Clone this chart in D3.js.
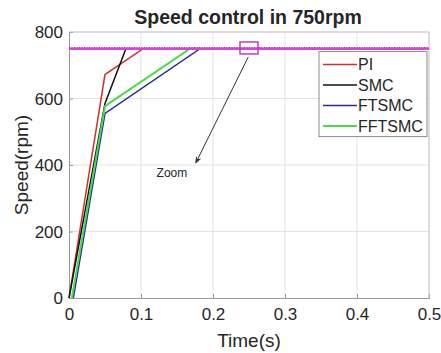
<!DOCTYPE html>
<html>
<head>
<meta charset="utf-8">
<script src="https://cdn.jsdelivr.net/npm/d3@7"></script>
<style>
  body { margin: 0; background: #fff; }
  text { font-family: "Liberation Sans", Arial, sans-serif; fill: #262626; }
</style>
</head>
<body>
<svg id="chart" width="441" height="353"></svg>
<script>
// series
const seriesNames = ['PI', 'SMC', 'FTSMC', 'FFTSMC'];
const timePI = [0, 0.05, 0.103, 0.5];
const speedPI = [0, 672, 750, 750];
const timeSMC = [0, 0.05, 0.079, 0.5];
const speedSMC = [0, 585, 750, 750];
const timeFTSMC = [0.006, 0.05, 0.182, 0.5];
const speedFTSMC = [0, 555, 750, 750];
const timeFFTSMC = [0.004, 0.05, 0.168, 0.5];
const speedFFTSMC = [0, 577, 750, 750];
const refTime = [0, 0.5];
const refSpeed = [750, 750];

const xTicks = [0, 0.1, 0.2, 0.3, 0.4, 0.5];
const yTicks = [0, 200, 400, 600, 800];

// zoom marker + arrow, in data units
const zoomBox = { t0: 0.2375, t1: 0.2625, s0: 734, s1: 770 };
const arrowFrom = [0.249, 725];
const arrowTo = [0.176, 406];
const zoomLabel = { t: 0.143, s: 376, text: 'Zoom' };

const colors = ['#d03030', '#111111', '#2a2a9c', '#44dd44'];

const margin = { top: 32, right: 12, bottom: 55, left: 69 };
const width = 441 - margin.left - margin.right;
const height = 353 - margin.top - margin.bottom;

const svg = d3.select('#chart');
const g = svg.append('g')
  .attr('transform', 'translate(' + margin.left + ',' + margin.top + ')');

const x = d3.scaleLinear().domain([0, 0.5]).range([0, width]);
const y = d3.scaleLinear().domain([0, 800]).range([height, 0]);

// grid
g.append('g').selectAll('line').data(xTicks.slice(1, -1)).enter().append('line')
  .attr('x1', d => x(d)).attr('x2', d => x(d))
  .attr('y1', 0).attr('y2', height)
  .attr('stroke', '#e3e3e3').attr('stroke-width', 1);
g.append('g').selectAll('line').data(yTicks.slice(1, -1)).enter().append('line')
  .attr('x1', 0).attr('x2', width)
  .attr('y1', d => y(d)).attr('y2', d => y(d))
  .attr('stroke', '#e3e3e3').attr('stroke-width', 1);

// axes
const xAxis = g.append('g')
  .attr('transform', 'translate(0,' + height + ')')
  .call(d3.axisBottom(x).tickValues(xTicks).tickSize(-4).tickPadding(10).tickFormat(d3.format('')));
const yAxis = g.append('g')
  .call(d3.axisLeft(y).tickValues(yTicks).tickSize(-4).tickPadding(6));
[xAxis, yAxis].forEach(a => {
  a.selectAll('text').style('font-size', '17px').attr('fill', '#262626');
  a.selectAll('line').attr('stroke', '#999');
  a.select('.domain').attr('stroke', '#999');
});
yAxis.selectAll('.tick text').attr('dy', '0.35em');

// box top/right
g.append('line').attr('x1', 0).attr('x2', width).attr('y1', 0).attr('y2', 0).attr('stroke', '#bbb');
g.append('line').attr('x1', width).attr('x2', width).attr('y1', 0).attr('y2', height).attr('stroke', '#bbb');

// lines
const line = d3.line().x(d => x(d[0])).y(d => y(d[1]));
const series = [
  d3.zip(timePI, speedPI),
  d3.zip(timeSMC, speedSMC),
  d3.zip(timeFTSMC, speedFTSMC),
  d3.zip(timeFFTSMC, speedFFTSMC)
];
series.forEach((s, i) => {
  g.append('path').datum(s)
    .attr('fill', 'none')
    .attr('stroke', colors[i])
    .attr('stroke-width', i === 3 ? 2 : 1.5)
    .attr('d', line);
});

// reference at 750
const ref = d3.zip(refTime, refSpeed);
g.append('path').datum(ref)
  .attr('fill', 'none').attr('stroke', '#e040e0').attr('stroke-width', 2.5)
  .attr('d', line);
g.append('path').datum(ref)
  .attr('fill', 'none').attr('stroke', '#7a3a8a').attr('stroke-width', 1)
  .attr('stroke-dasharray', '1,1.5')
  .attr('transform', 'translate(0,-1)')
  .attr('d', line);

// zoom box
g.append('rect')
  .attr('x', x(zoomBox.t0)).attr('y', y(zoomBox.s1))
  .attr('width', x(zoomBox.t1) - x(zoomBox.t0))
  .attr('height', y(zoomBox.s0) - y(zoomBox.s1))
  .attr('fill', 'none').attr('stroke', '#c040b0').attr('stroke-width', 1.5);

svg.append('defs').append('marker')
  .attr('id', 'arr').attr('viewBox', '0 0 10 10')
  .attr('refX', 9).attr('refY', 5)
  .attr('markerWidth', 7).attr('markerHeight', 7)
  .attr('orient', 'auto')
  .append('path').attr('d', 'M0,1 L10,5 L0,9 L3,5 Z').attr('fill', '#333');

g.append('line')
  .attr('x1', x(arrowFrom[0])).attr('y1', y(arrowFrom[1]))
  .attr('x2', x(arrowTo[0])).attr('y2', y(arrowTo[1]))
  .attr('stroke', '#333').attr('stroke-width', 1)
  .attr('marker-end', 'url(#arr)');

g.append('text')
  .attr('x', x(zoomLabel.t)).attr('y', y(zoomLabel.s))
  .attr('dy', '0.35em').attr('text-anchor', 'middle')
  .style('font-size', '12px')
  .text(zoomLabel.text);

// legend
const lg = g.append('g').attr('transform', 'translate(' + (x(0.3472)) + ',' + (y(741)) + ')');
lg.append('rect')
  .attr('width', 108).attr('height', 85)
  .attr('fill', '#fff').attr('stroke', '#888').attr('stroke-width', 1);
seriesNames.forEach((name, i) => {
  const yy = 13 + i * 20.5;
  lg.append('line')
    .attr('x1', 4).attr('x2', 38).attr('y1', yy).attr('y2', yy)
    .attr('stroke', colors[i]).attr('stroke-width', i === 3 ? 2 : 1.5);
  lg.append('text')
    .attr('x', 39).attr('y', yy).attr('dy', '0.35em')
    .style('font-size', '16px')
    .text(name);
});

// titles
svg.append('text')
  .attr('x', margin.left + width / 2 - 1).attr('y', 24)
  .attr('text-anchor', 'middle')
  .style('font-size', '19.5px').style('font-weight', 'bold')
  .attr('fill', '#000')
  .text('Speed control in 750rpm');

svg.append('text')
  .attr('x', margin.left + width / 2).attr('y', 347)
  .attr('text-anchor', 'middle')
  .style('font-size', '19px')
  .text('Time(s)');

svg.append('text')
  .attr('transform', 'translate(28,' + (margin.top + height / 2) + ') rotate(-90)')
  .attr('text-anchor', 'middle')
  .style('font-size', '19px')
  .text('Speed(rpm)');
</script>
</body>
</html>
